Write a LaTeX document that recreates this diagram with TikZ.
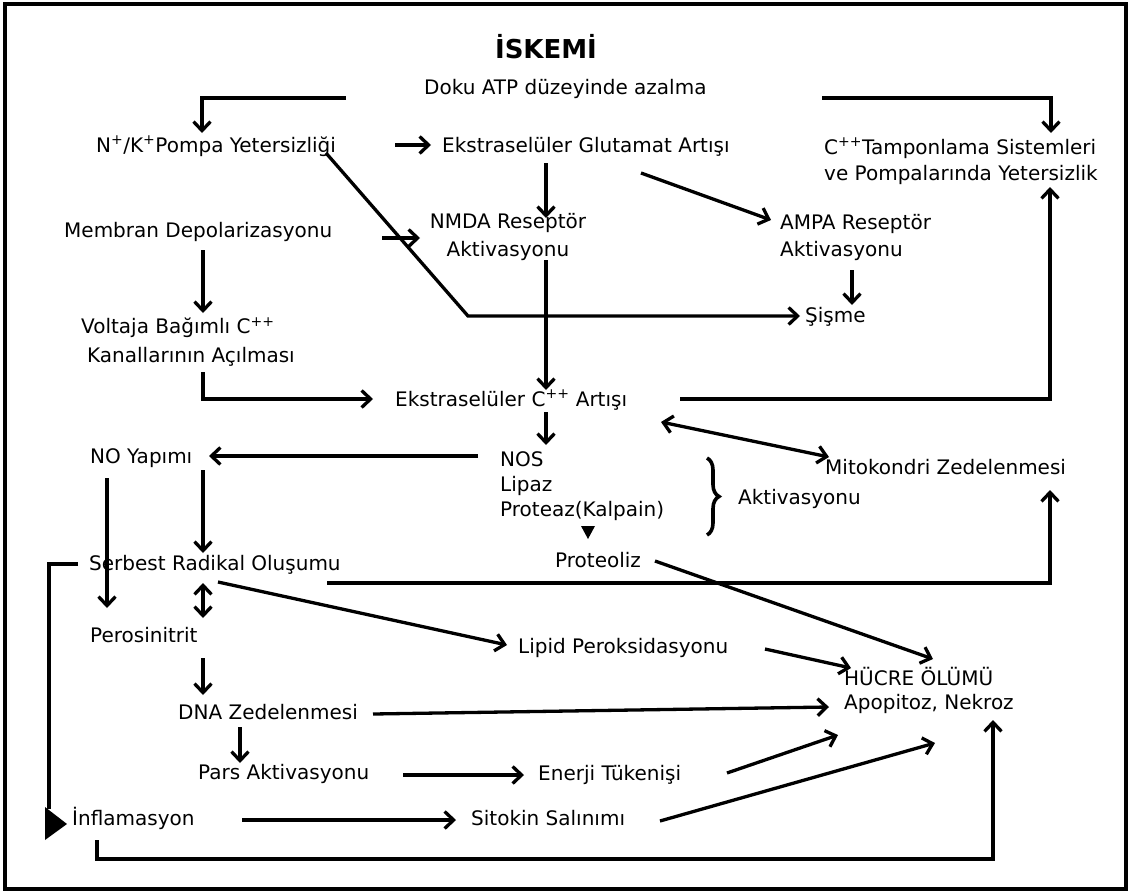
\documentclass[tikz,border=0pt]{standalone}
\usepackage{fontspec}
\setmainfont{DejaVu Sans}
\usetikzlibrary{arrows.meta,calc,decorations.pathreplacing}
\begin{document}
\begin{tikzpicture}[x=1pt,y=-1pt,
  lbl/.style={font=\fontsize{20}{26}\selectfont, inner sep=0pt, text height=15pt, text depth=0pt, anchor=west},
  mlbl/.style={font=\fontsize{20}{26}\selectfont, inner sep=0pt, align=left, anchor=west},
  tip/.tip={Straight Barb[length=9pt,width=17pt]},
  con/.style={line width=3.3pt, -tip},
  dcon/.style={line width=3.3pt, tip-tip},
  plain/.style={line width=3.3pt}]
\useasboundingbox (0,0) rectangle (1130,894);
\fill[white] (0,0) rectangle (1130,894);
\draw[line width=3.5pt] (5,4) rectangle (1126,889);

\node[font=\fontsize{26}{30}\selectfont\bfseries, inner sep=0pt] (title) at (546,47) {İSKEMİ};
\node[lbl] (atp) at (424,87) {Doku ATP düzeyinde azalma};
\node[lbl] (pompa) at (96,145) {N\textsuperscript{+}/K\textsuperscript{+}Pompa Yetersizliği};
\node[lbl] (glut) at (442,145) {Ekstraselüler Glutamat Artışı};
\node[mlbl] (tamp) at (824,161) {C\textsuperscript{++}Tamponlama Sistemleri\\ve Pompalarında Yetersizlik};
\node[lbl] (membran) at (64,230) {Membran Depolarizasyonu};
\node[mlbl, font=\fontsize{20}{28}\selectfont, align=center, anchor=center] (nmda) at (508,237) {NMDA Reseptör\\Aktivasyonu};
\node[mlbl, font=\fontsize{20}{27}\selectfont] (ampa) at (780,237) {AMPA Reseptör\\Aktivasyonu};
\node[lbl] (sisme) at (805,315) {Şişme};
\node[mlbl, font=\fontsize{20}{29}\selectfont] (voltaja) at (81,342) {Voltaja Bağımlı C\textsuperscript{++}\\\hspace*{6pt}Kanallarının Açılması};
\node[lbl] (ca) at (395,399) {Ekstraselüler C\textsuperscript{++} Artışı};
\node[mlbl, font=\fontsize{20}{25}\selectfont] (enz) at (500,486) {NOS\\Lipaz\\Proteaz(Kalpain)};
\node[lbl] (prot) at (555,560) {Proteoliz};
\node[lbl] (aktiv) at (738,497) {Aktivasyonu};
\node[lbl] (mito) at (825,467) {Mitokondri Zedelenmesi};
\node[lbl] (noy) at (90,456) {NO Yapımı};
\node[lbl] (serb) at (89,563) {Serbest Radikal Oluşumu};
\node[lbl] (pero) at (90,635) {Perosinitrit};
\node[lbl] (lipid) at (518,646) {Lipid Peroksidasyonu};
\node[mlbl, font=\fontsize{20}{24}\selectfont] (hucre) at (844,690) {HÜCRE ÖLÜMÜ\\Apopitoz, Nekroz};
\node[lbl] (dna) at (178,712) {DNA Zedelenmesi};
\node[lbl] (pars) at (198,772) {Pars Aktivasyonu};
\node[lbl] (enerji) at (538,773) {Enerji Tükenişi};
\node[lbl] (infl) at (72,818) {İnflamasyon};
\node[lbl] (sitokin) at (471,818) {Sitokin Salınımı};

% connectors
\draw[con] ($(atp.west)+(-78,11)$) -| ($(pompa.west)+(106,-12)$);
\draw[con] ($(atp.west)+(398,11)$) -| ($(tamp.west)+(227,-28)$);
\draw[con] ($(pompa.west)+(299,0)$) -- ($(glut.west)+(-11,0)$);
\draw[con] ($(pompa.west)+(230,8)$) -- ($(pompa.west)+(372,171)$) -- ($(sisme.west)+(-5,1)$);
\draw[con] ($(glut.west)+(104,18)$) -- ($(nmda.center)+(38,-19)$);
\draw[con] ($(glut.west)+(199,28)$) -- ($(ampa.west)+(-9,-17)$);
\draw[con] ($(membran.west)+(318,8)$) -- ($(nmda.center)+(-88,1)$);
\draw[con] ($(ampa.west)+(72,33)$) -- ($(sisme.west)+(47,-10)$);
\draw[con] ($(nmda.center)+(38,23)$) -- ($(ca.west)+(151,-9)$);
\draw[con] ($(membran.west)+(139,20)$) -- ($(voltaja.west)+(122,-29)$);
\draw[con] ($(voltaja.west)+(122,30)$) |- ($(ca.west)+(-22,0)$);
\draw[con] ($(ca.west)+(285,0)$) -| ($(tamp.west)+(226,26)$);
\draw[con] ($(ca.west)+(151,13)$) -- ($(enz.west)+(46,-41)$);
\draw[con] ($(enz.west)+(-22,-30)$) -- ($(noy.west)+(119,0)$);
\draw[dcon] ($(ca.west)+(266,23)$) -- ($(mito.west)+(4,-10)$);
\fill ($(prot.west)+(26,-34)$) -- ($(prot.west)+(40,-34)$) -- ($(prot.west)+(33,-21)$) -- cycle;
\draw[line width=3.6pt, decorate, decoration={brace, amplitude=12pt}] ($(aktiv.west)+(-31,-39)$) -- ($(aktiv.west)+(-31,38)$);
\draw[con] ($(prot.west)+(100,1)$) -- ($(hucre.west)+(89,-31)$);
\draw[con] ($(serb.west)+(238,20)$) -| ($(mito.west)+(225,23)$);
\draw[con] ($(noy.west)+(17,22)$) -- ($(pero.west)+(17,-27)$);
\draw[con] ($(noy.west)+(113,14)$) -- ($(serb.west)+(114,-10)$);
\draw[dcon] ($(serb.west)+(114,20)$) -- ($(pero.west)+(113,-17)$);
\draw[con] ($(serb.west)+(129,19)$) -- ($(lipid.west)+(-11,-1)$);
\draw[con] ($(lipid.west)+(247,3)$) -- ($(hucre.west)+(7,-22)$);
\draw[plain] ($(serb.west)+(-11,1)$) -| ($(infl.west)+(-23,-9)$);
\fill ($(infl.west)+(-27,-11)$) -- ($(infl.west)+(-27,22)$) -- ($(infl.west)+(-5,6)$) -- cycle;
\draw[con] ($(pero.west)+(113,23)$) -- ($(dna.west)+(25,-17)$);
\draw[con] ($(dna.west)+(195,2)$) -- ($(hucre.west)+(-15,17)$);
\draw[con] ($(dna.west)+(62,15)$) -- ($(pars.west)+(42,-9)$);
\draw[con] ($(pars.west)+(205,3)$) -- ($(enerji.west)+(-14,2)$);
\draw[con] ($(enerji.west)+(189,0)$) -- ($(hucre.west)+(-6,45)$);
\draw[con] ($(infl.west)+(170,2)$) -- ($(sitokin.west)+(-15,2)$);
\draw[con] ($(sitokin.west)+(189,3)$) -- ($(hucre.west)+(91,53)$);
\draw[con] ($(infl.west)+(25,22)$) -- ++(0,19) -| ($(hucre.west)+(149,30)$);
\end{tikzpicture}
\end{document}
